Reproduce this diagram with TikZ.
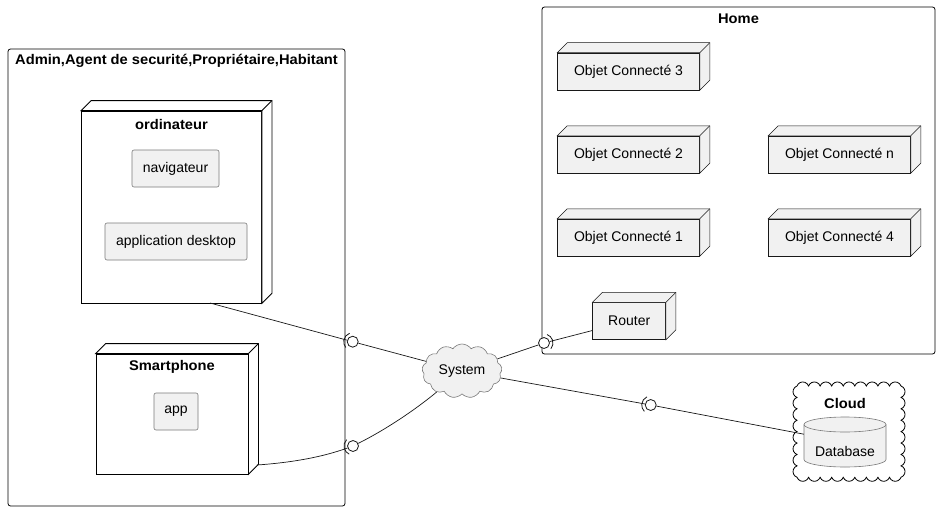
\documentclass[tikz,border=0pt]{standalone}
\usepackage{fontspec}
\setmainfont{Liberation Sans}[BoldFeatures={FakeStretch=1.05}]
\usetikzlibrary{shapes.symbols,shapes.geometric,calc}
\definecolor{boxfill}{HTML}{F1F1F1}
\definecolor{edge}{HTML}{181818}
\definecolor{softedge}{HTML}{7A7A7A}

% top and right faces of a 3D deployment node
\newcommand\boxdepth[2]{%
  \filldraw[#2] (#1.north west) -- ++(10,10) -- ($(#1.north east)+(10,10)$)
     -- ($(#1.south east)+(10,10)$) -- (#1.south east) -- (#1.north east) -- cycle;
  \draw[#2] (#1.north east) -- ++(10,10);
}

\begin{document}
\begin{tikzpicture}[x=1pt,y=1pt,
  every node/.style={font=\fontsize{14}{16}\selectfont, inner sep=0pt},
  title/.style={font=\fontsize{14}{16}\selectfont\bfseries},
  frame/.style={draw=black, line width=0.8pt, rounded corners=2.5pt, fill=white},
  artifact/.style={draw=softedge, line width=0.6pt, fill=boxfill, rounded corners=2pt, minimum height=37pt},
  nodebox/.style={draw=edge, line width=0.5pt, fill=boxfill, minimum height=37pt},
  nodeface/.style={draw=edge, line width=0.5pt, fill=boxfill},
  bignode/.style={draw=black, line width=0.8pt, fill=white},
  bigface/.style={draw=black, line width=0.8pt, fill=white},
  link/.style={draw=edge, line width=0.7pt},
  port/.style={circle, draw=edge, line width=0.8pt, fill=white, minimum size=11pt},
  socket/.style={draw=edge, line width=0.8pt},
  dbshape/.style={draw=softedge, line width=0.6pt, fill=boxfill},
]
\useasboundingbox (0,0) rectangle (941,-511);

% ---- packages ----
\node[frame, minimum width=337pt, minimum height=457pt] (actors) at (176.5,-277.5) {};
\node[title, anchor=west] (actorsTitle) at (15,-61) {Admin,Agent de securité,Propriétaire,Habitant};

\node[frame, minimum width=393pt, minimum height=347pt] (home) at (738.5,-180.5) {};
\node[title] (homeTitle) at (738.5,-19) {Home};

% ---- ordinateur ----
\node[bignode, minimum width=180pt, minimum height=192pt] (ord) at (171.5,-207) {};
\boxdepth{ord}{bigface}
\node[title] (ordTitle) at (171.5,-124) {ordinateur};
\node[artifact, minimum width=87pt] (nav) at (175.5,-168.5) {navigateur};
\node[artifact, minimum width=142pt] (desk) at (176,-241.5) {application desktop};

% ---- Smartphone ----
\node[bignode, minimum width=152pt, minimum height=120pt] (phone) at (172,-414) {};
\boxdepth{phone}{bigface}
\node[title] (phoneTitle) at (172,-367) {Smartphone};
\node[artifact, minimum width=44pt] (app) at (176,-411.5) {app};

% ---- connected objects ----
\node[nodebox, minimum width=142pt] (oc3) at (628.5,-71.5) {Objet Connecté 3};
\boxdepth{oc3}{nodeface}
\node[nodebox, minimum width=142pt] (oc2) at (628.5,-154.5) {Objet Connecté 2};
\boxdepth{oc2}{nodeface}
\node[nodebox, minimum width=142pt] (oc1) at (628.5,-237.5) {Objet Connecté 1};
\boxdepth{oc1}{nodeface}
\node[nodebox, minimum width=142pt] (ocn) at (839.5,-154.5) {Objet Connecté n};
\boxdepth{ocn}{nodeface}
\node[nodebox, minimum width=142pt] (oc4) at (839.5,-237.5) {Objet Connecté 4};
\boxdepth{oc4}{nodeface}
\node[nodebox, minimum width=73pt] (router) at (629.2,-321) {Router};
\boxdepth{router}{nodeface}

% ---- Cloud package (scalloped outline) ----
\draw[black, line width=0.8pt, fill=white] (797,-386)
  \foreach \i in {1,...,9} { arc[start angle=160, end angle=20, radius=6.15] }
  \foreach \i in {1,...,8} { arc[start angle=70, end angle=-70, radius=6.07] }
  \foreach \i in {1,...,9} { arc[start angle=-20, end angle=-160, radius=6.15] }
  \foreach \i in {1,...,8} { arc[start angle=250, end angle=110, radius=6.07] } -- cycle;
\node[title] (cloudTitle) at (845,-403) {Cloud};

% Database cylinder
\node[minimum width=82pt, minimum height=50pt] (db) at (845,-442) {};
\filldraw[dbshape] (804,-424.5) -- (804,-459.5)
  arc[start angle=180, end angle=360, x radius=41, y radius=7.5] -- (886,-424.5)
  arc[start angle=0, end angle=180, x radius=41, y radius=7.5] -- cycle;
\draw[dbshape, fill=none] (804,-424.5) arc[start angle=180, end angle=360, x radius=41, y radius=7.5];
\node (dbText) at (845,-451) {Database};

% ---- System ----
\node[cloud, cloud puffs=13, cloud puff arc=110, aspect=1.6, draw=softedge, line width=0.6pt,
      fill=boxfill, minimum width=80pt, minimum height=54pt] (sys) at (462,-371) {System};

% ---- interface ports ----
\node[port] (p1) at (352.7,-341.7) {};
\node[port] (p2) at (353,-446) {};
\node[port] (p3) at (544,-343) {};
\node[port] (p4) at (650.7,-405) {};

\coordinate (ordOut) at (210,-303);
\coordinate (phoneOut) at (257,-465);

% ---- connectors ----
\draw[link] (ordOut) -- (p1);
\draw[link] (p1) -- (sys);
\draw[link] (phoneOut) .. controls (300,-462) and (328,-455) .. (p2);
\draw[link] (p2) .. controls (385,-430) and (415,-410) .. (sys);
\draw[link] (sys) -- (p3);
\draw[link] (p3) -- (router);
\draw[link] (sys) -- (p4);
\draw[link] (p4) -- (db);

% sockets around the ports
\draw[socket] ($(p1)+(110:9)$) arc[start angle=110, end angle=220, radius=9];
\draw[socket] ($(p2)+(135:9)$) arc[start angle=135, end angle=245, radius=9];
\draw[socket] ($(p3)+(-40:9)$) arc[start angle=-40, end angle=70, radius=9];
\draw[socket] ($(p4)+(115:9)$) arc[start angle=115, end angle=225, radius=9];
\end{tikzpicture}
\end{document}
